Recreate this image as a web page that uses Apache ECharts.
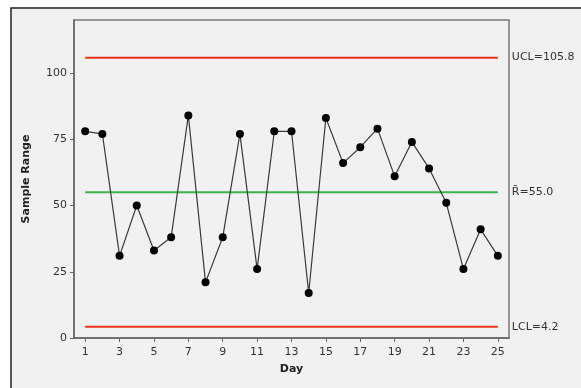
<!DOCTYPE html>
<html><head><meta charset="utf-8">
<script src="https://cdn.jsdelivr.net/npm/echarts@6/dist/echarts.min.js"></script>
<style>html,body{margin:0;padding:0;background:#fff}#c{width:581px;height:388px}</style>
</head><body><div id="c"></div>
<script>
const days = [1,2,3,4,5,6,7,8,9,10,11,12,13,14,15,16,17,18,19,20,21,22,23,24,25];
const ranges = [78,77,31,50,33,38,84,21,38,77,26,78,78,17,83,66,72,79,61,74,64,51,26,41,31];
const xTicks = [1,3,5,7,9,11,13,15,17,19,21,23,25];
const yTicks = [0,25,50,75,100];
const UCL = 105.8, RBAR = 55.0, LCL = 4.2;
const limitLabels = ['UCL=105.8', 'R\u0304=55.0', 'LCL=4.2'];

const font = 'DejaVu Sans';
function limitSeries(val, color, label) {
  return {
    type: 'line', data: [[days[0], val], [days[days.length-1], val]],
    symbol: 'none', silent: true, z: 1,
    lineStyle: {color: color, width: 2},
    endLabel: {show: true, formatter: label, distance: 14, color: '#333', fontFamily: font, fontSize: 11}
  };
}
const chart = echarts.init(document.getElementById('c'), null, {renderer: 'canvas'});
chart.setOption({
  animation: false,
  backgroundColor: '#fff',
  graphic: [{type: 'rect', z: -10, shape: {x: 11, y: 8, width: 580, height: 390},
    style: {fill: '#f1f1f1', stroke: '#222', lineWidth: 1.5}}],
  grid: {left: 74, top: 20, right: 72, bottom: 50, show: true, backgroundColor: '#f1f1f1', borderColor: '#777', borderWidth: 1.5},
  xAxis: {
    type: 'value', min: 0.35, max: 25.65,
    name: 'Day', nameLocation: 'middle', nameGap: 26,
    nameTextStyle: {fontFamily: font, fontSize: 11, fontWeight: 'bold', color: '#222'},
    axisLine: {lineStyle: {color: '#666', width: 1.5}},
    axisTick: {show: true, length: 4, customValues: xTicks, lineStyle: {color: '#666'}},
    axisLabel: {customValues: xTicks, margin: 9, fontFamily: font, fontSize: 11, color: '#333'},
    splitLine: {show: false}
  },
  yAxis: {
    type: 'value', min: 0, max: 120,
    name: 'Sample Range', nameLocation: 'middle', nameGap: 42,
    nameTextStyle: {fontFamily: font, fontSize: 11, fontWeight: 'bold', color: '#222'},
    axisLine: {show: true, lineStyle: {color: '#666', width: 1.5}},
    axisTick: {show: true, length: 4, customValues: yTicks, lineStyle: {color: '#666'}},
    axisLabel: {customValues: yTicks, margin: 7, fontFamily: font, fontSize: 11, color: '#333'},
    splitLine: {show: false}
  },
  series: [
    limitSeries(UCL, '#e8321e', limitLabels[0]),
    limitSeries(RBAR, '#3cb44a', limitLabels[1]),
    limitSeries(LCL, '#e8321e', limitLabels[2]),
    {
      type: 'line', data: days.map((d, i) => [d, ranges[i]]), z: 5,
      symbol: 'circle', symbolSize: 8,
      itemStyle: {color: '#000'},
      lineStyle: {color: '#3a3a3a', width: 1.2}
    }
  ]
});
</script></body></html>
